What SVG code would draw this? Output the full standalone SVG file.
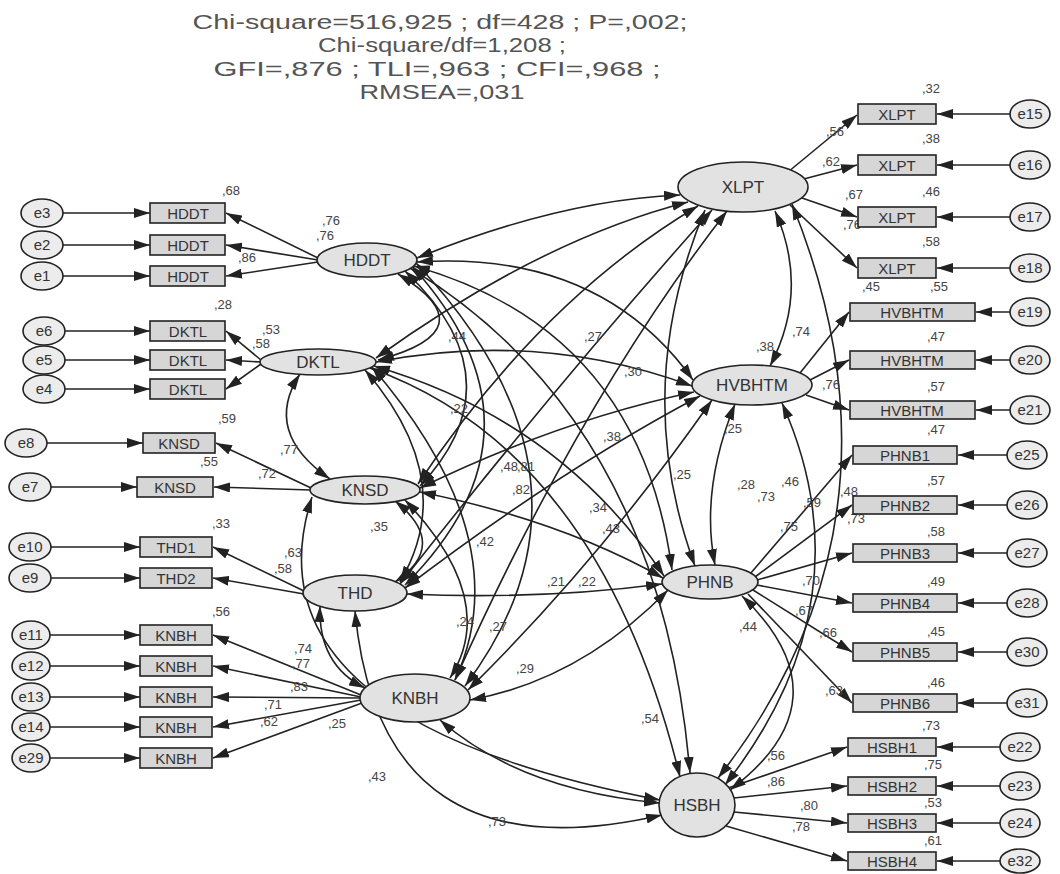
<svg xmlns="http://www.w3.org/2000/svg" width="1060" height="874" viewBox="0 0 1060 874">
<defs>
<marker id="ah" viewBox="0 0 16 10" refX="16" refY="5" markerWidth="16" markerHeight="10" markerUnits="userSpaceOnUse" orient="auto-start-reverse"><path d="M0,0 L16,5 L0,10 z" fill="#222"/></marker>
</defs>
<style>
.t{font-family:"Liberation Sans",Arial,sans-serif;fill:#555;font-size:20px;text-anchor:middle}
.lat{fill:#e2e2e2;stroke:#222;stroke-width:1.6}
.box{fill:#d6d6d6;stroke:#222;stroke-width:1.6}
.err{fill:#ececec;stroke:#222;stroke-width:1.6}
.nt{font-family:"Liberation Sans",Arial,sans-serif;fill:#333;font-size:17px;text-anchor:middle}
.bt{font-family:"Liberation Sans",Arial,sans-serif;fill:#333;font-size:15px;text-anchor:middle}
.v{font-family:"Liberation Sans",Arial,sans-serif;fill:#444;font-size:13px}
.c path{fill:none;stroke:#222;stroke-width:1.6}
.one{marker-end:url(#ah)}
.two{marker-start:url(#ah);marker-end:url(#ah)}
</style>
<rect width="1060" height="874" fill="#fff"/>
<g id="title">
<text class="t" x="440" y="29" textLength="495" lengthAdjust="spacingAndGlyphs">Chi-square=516,925 ; df=428 ; P=,002;</text>
<text class="t" x="442" y="52" textLength="248" lengthAdjust="spacingAndGlyphs">Chi-square/df=1,208 ;</text>
<text class="t" x="437" y="76" textLength="447" lengthAdjust="spacingAndGlyphs">GFI=,876 ; TLI=,963 ; CFI=,968 ;</text>
<text class="t" x="442" y="99" textLength="165" lengthAdjust="spacingAndGlyphs">RMSEA=,031</text>
</g>
<g id="connectors" class="c">
<path class="one" d="M63,213 H150"/><path class="one" d="M63,245 H150"/><path class="one" d="M63,276 H150"/>
<path class="one" d="M65,331 H150"/><path class="one" d="M65,360 H150"/><path class="one" d="M65,389 H150"/>
<path class="one" d="M47,443 H143"/><path class="one" d="M51,487 H137"/>
<path class="one" d="M51,547 H140"/><path class="one" d="M51,578 H140"/>
<path class="one" d="M50,635 H140"/><path class="one" d="M50,666 H140"/><path class="one" d="M50,697 H140"/><path class="one" d="M50,727 H140"/><path class="one" d="M50,758 H140"/>
<path class="one" d="M318,258 L226,213"/><path class="one" d="M318,260 L226,245"/><path class="one" d="M318,262 L226,276"/>
<path class="one" d="M261,360 L226,331"/><path class="one" d="M261,362 L226,360"/><path class="one" d="M261,364 L226,389"/>
<path class="one" d="M311,488 L216,443"/><path class="one" d="M311,490 L214,487"/>
<path class="one" d="M304,591 L213,547"/><path class="one" d="M304,594 L213,578"/>
<path class="one" d="M361,695 L213,635"/><path class="one" d="M361,697 L213,666"/><path class="one" d="M361,698 L213,697"/><path class="one" d="M361,700 L213,727"/><path class="one" d="M362,703 L213,758"/>
<path class="one" d="M1010,114 H937"/><path class="one" d="M1010,165 H937"/><path class="one" d="M1010,217 H937"/><path class="one" d="M1010,268 H937"/>
<path class="one" d="M1010,312 H976"/><path class="one" d="M1010,360 H976"/><path class="one" d="M1010,410 H976"/>
<path class="one" d="M1007,455 H958"/><path class="one" d="M1007,505 H958"/><path class="one" d="M1007,553 H958"/><path class="one" d="M1007,603 H958"/><path class="one" d="M1007,652 H958"/><path class="one" d="M1007,703 H958"/>
<path class="one" d="M1000,747 H937"/><path class="one" d="M1000,786 H937"/><path class="one" d="M1000,823 H937"/><path class="one" d="M1000,861 H937"/>
<path class="one" d="M788,172 L857,115"/><path class="one" d="M800,180 L857,165"/><path class="one" d="M802,198 L857,217"/><path class="one" d="M790,205 L857,268"/>
<path class="one" d="M800,373 L849,312"/><path class="one" d="M810,380 L849,360"/><path class="one" d="M806,395 L849,410"/>
<path class="one" d="M750,574 L852,455"/><path class="one" d="M755,577 L852,505"/><path class="one" d="M757,580 L852,553"/><path class="one" d="M757,585 L852,603"/><path class="one" d="M753,590 L852,652"/><path class="one" d="M748,594 L852,703"/>
<path class="one" d="M728,788 L847,747"/><path class="one" d="M734,798 L847,786"/><path class="one" d="M734,812 L847,823"/><path class="one" d="M726,826 L847,861"/>
<path class="two" d="M398,274 Q490,330 378,360"/>
<path class="two" d="M405,271 Q520,380 420,486"/>
<path class="two" d="M412,266 Q560,430 405,585"/>
<path class="two" d="M416,263 Q620,480 465,686"/>
<path class="two" d="M300,374 Q262,432 330,479"/>
<path class="two" d="M365,370 Q460,480 400,582"/>
<path class="two" d="M372,367 Q520,540 455,680"/>
<path class="two" d="M395,501 Q450,545 395,582"/>
<path class="two" d="M405,500 Q500,600 450,678"/>
<path class="two" d="M320,606 Q318,665 365,688"/>
<path class="two" d="M775,211 Q810,290 770,366"/>
<path class="two" d="M705,210 Q630,390 695,566"/>
<path class="two" d="M792,204 Q920,520 718,778"/>
<path class="two" d="M735,404 Q700,490 715,565"/>
<path class="two" d="M782,403 Q870,600 725,785"/>
<path class="two" d="M742,596 Q850,700 730,790"/>
<path class="two" d="M417,258 Q560,200 680,195"/>
<path class="two" d="M417,262 Q600,250 693,380"/>
<path class="two" d="M414,266 Q640,330 672,570"/>
<path class="two" d="M410,268 Q660,420 690,773"/>
<path class="two" d="M376,358 Q540,240 688,202"/>
<path class="two" d="M376,362 Q540,330 692,386"/>
<path class="two" d="M374,366 Q560,420 664,576"/>
<path class="two" d="M370,368 Q600,450 680,777"/>
<path class="two" d="M418,484 Q540,300 698,206"/>
<path class="two" d="M420,488 Q560,420 694,392"/>
<path class="two" d="M420,492 Q560,520 663,578"/>
<path class="two" d="M312,497 Q240,720 660,800"/>
<path class="two" d="M400,584 Q560,380 712,210"/>
<path class="two" d="M405,588 Q560,470 700,396"/>
<path class="two" d="M407,594 Q540,600 662,584"/>
<path class="two" d="M355,611 Q380,880 662,815"/>
<path class="two" d="M455,680 Q580,400 727,211"/>
<path class="two" d="M468,690 Q600,560 712,400"/>
<path class="two" d="M470,700 Q580,680 668,590"/>
<path class="two" d="M440,720 Q520,790 660,803"/>
</g>
<g id="labels" class="v">
<text x="222" y="195">,68</text><text x="322" y="225">,76</text><text x="316" y="240">,76</text><text x="238" y="262">,86</text>
<text x="214" y="309">,28</text><text x="262" y="334">,53</text><text x="252" y="348">,58</text>
<text x="218" y="423">,59</text><text x="280" y="454">,77</text><text x="258" y="478">,72</text><text x="200" y="466">,55</text>
<text x="212" y="528">,33</text><text x="284" y="557">,63</text><text x="274" y="573">,58</text><text x="370" y="531">,35</text>
<text x="212" y="616">,56</text><text x="294" y="653">,74</text><text x="292" y="668">,77</text><text x="290" y="691">,83</text><text x="264" y="709">,71</text><text x="260" y="726">,62</text><text x="328" y="728">,25</text>
<text x="922" y="93">,32</text><text x="826" y="136">,56</text><text x="922" y="143">,38</text><text x="822" y="166">,62</text><text x="922" y="196">,46</text><text x="845" y="199">,67</text><text x="843" y="229">,76</text><text x="922" y="246">,58</text>
<text x="862" y="291">,45</text><text x="930" y="291">,55</text><text x="792" y="336">,74</text><text x="927" y="341">,47</text><text x="822" y="389">,76</text><text x="927" y="391">,57</text>
<text x="927" y="434">,47</text><text x="840" y="496">,48</text><text x="927" y="485">,57</text><text x="847" y="523">,73</text><text x="927" y="536">,58</text><text x="802" y="585">,70</text><text x="927" y="586">,49</text><text x="795" y="615">,67</text><text x="819" y="637">,66</text><text x="927" y="636">,45</text><text x="825" y="695">,63</text><text x="927" y="687">,46</text>
<text x="922" y="730">,73</text><text x="767" y="760">,56</text><text x="924" y="769">,75</text><text x="767" y="786">,86</text><text x="924" y="807">,53</text><text x="800" y="810">,80</text><text x="792" y="831">,78</text><text x="924" y="845">,61</text>
<text x="448" y="341">,44</text><text x="584" y="341">,27</text><text x="624" y="376">,30</text><text x="756" y="351">,38</text><text x="450" y="413">,22</text><text x="603" y="441">,38</text>
<text x="500" y="471">,48</text><text x="517" y="471">,81</text><text x="512" y="494">,82</text><text x="673" y="479">,25</text><text x="724" y="433">,25</text><text x="589" y="512">,34</text><text x="602" y="533">,43</text>
<text x="737" y="489">,28</text><text x="781" y="486">,46</text><text x="757" y="501">,73</text><text x="803" y="507">,59</text><text x="780" y="531">,75</text>
<text x="476" y="546">,42</text><text x="547" y="586">,21</text><text x="578" y="586">,22</text><text x="456" y="626">,24</text><text x="489" y="631">,27</text><text x="516" y="673">,29</text>
<text x="739" y="631">,44</text><text x="641" y="723">,54</text><text x="368" y="781">,43</text><text x="488" y="826">,73</text>
</g>
<g id="e3"><ellipse class="err" cx="42" cy="213" rx="21" ry="14"/><text class="bt" x="42" y="218">e3</text></g>
<g id="e2"><ellipse class="err" cx="42" cy="245" rx="21" ry="14"/><text class="bt" x="42" y="250">e2</text></g>
<g id="e1"><ellipse class="err" cx="42" cy="276" rx="21" ry="14"/><text class="bt" x="42" y="281">e1</text></g>
<g id="e6"><ellipse class="err" cx="44" cy="331" rx="21" ry="14"/><text class="bt" x="44" y="336">e6</text></g>
<g id="e5"><ellipse class="err" cx="44" cy="360" rx="21" ry="14"/><text class="bt" x="44" y="365">e5</text></g>
<g id="e4"><ellipse class="err" cx="44" cy="389" rx="21" ry="14"/><text class="bt" x="44" y="394">e4</text></g>
<g id="e8"><ellipse class="err" cx="26" cy="443" rx="21" ry="14"/><text class="bt" x="26" y="448">e8</text></g>
<g id="e7"><ellipse class="err" cx="30" cy="487" rx="21" ry="14"/><text class="bt" x="30" y="492">e7</text></g>
<g id="e10"><ellipse class="err" cx="30" cy="547" rx="21" ry="14"/><text class="bt" x="30" y="552">e10</text></g>
<g id="e9"><ellipse class="err" cx="30" cy="578" rx="21" ry="14"/><text class="bt" x="30" y="583">e9</text></g>
<g id="e11"><ellipse class="err" cx="31" cy="635" rx="19" ry="14"/><text class="bt" x="31" y="640">e11</text></g>
<g id="e12"><ellipse class="err" cx="31" cy="666" rx="19" ry="14"/><text class="bt" x="31" y="671">e12</text></g>
<g id="e13"><ellipse class="err" cx="31" cy="697" rx="19" ry="14"/><text class="bt" x="31" y="702">e13</text></g>
<g id="e14"><ellipse class="err" cx="31" cy="727" rx="19" ry="14"/><text class="bt" x="31" y="732">e14</text></g>
<g id="e29"><ellipse class="err" cx="31" cy="758" rx="19" ry="14"/><text class="bt" x="31" y="763">e29</text></g>
<g id="n_hddt1"><rect class="box" x="150" y="203" width="75" height="20"/><text class="bt" x="188" y="219">HDDT</text></g>
<g id="n_hddt2"><rect class="box" x="150" y="235" width="75" height="20"/><text class="bt" x="188" y="251">HDDT</text></g>
<g id="n_hddt3"><rect class="box" x="150" y="266" width="75" height="20"/><text class="bt" x="188" y="282">HDDT</text></g>
<g id="n_dktl1"><rect class="box" x="150" y="321" width="75" height="20"/><text class="bt" x="188" y="337">DKTL</text></g>
<g id="n_dktl2"><rect class="box" x="150" y="350" width="75" height="20"/><text class="bt" x="188" y="366">DKTL</text></g>
<g id="n_dktl3"><rect class="box" x="150" y="379" width="75" height="20"/><text class="bt" x="188" y="395">DKTL</text></g>
<g id="n_knsd1"><rect class="box" x="143" y="433" width="72" height="20"/><text class="bt" x="179" y="449">KNSD</text></g>
<g id="n_knsd2"><rect class="box" x="137" y="477" width="76" height="20"/><text class="bt" x="175" y="493">KNSD</text></g>
<g id="n_thd1"><rect class="box" x="140" y="537" width="72" height="20"/><text class="bt" x="176" y="553">THD1</text></g>
<g id="n_thd2"><rect class="box" x="140" y="568" width="72" height="20"/><text class="bt" x="176" y="584">THD2</text></g>
<g id="n_knbh1"><rect class="box" x="140" y="625" width="72" height="20"/><text class="bt" x="176" y="641">KNBH</text></g>
<g id="n_knbh2"><rect class="box" x="140" y="656" width="72" height="20"/><text class="bt" x="176" y="672">KNBH</text></g>
<g id="n_knbh3"><rect class="box" x="140" y="687" width="72" height="20"/><text class="bt" x="176" y="703">KNBH</text></g>
<g id="n_knbh4"><rect class="box" x="140" y="717" width="72" height="20"/><text class="bt" x="176" y="733">KNBH</text></g>
<g id="n_knbh5"><rect class="box" x="140" y="748" width="72" height="20"/><text class="bt" x="176" y="764">KNBH</text></g>
<g id="n_xlpt1"><rect class="box" x="858" y="104" width="78" height="20"/><text class="bt" x="897" y="120">XLPT</text></g>
<g id="n_xlpt2"><rect class="box" x="858" y="155" width="78" height="20"/><text class="bt" x="897" y="171">XLPT</text></g>
<g id="n_xlpt3"><rect class="box" x="858" y="207" width="78" height="20"/><text class="bt" x="897" y="223">XLPT</text></g>
<g id="n_xlpt4"><rect class="box" x="858" y="258" width="78" height="20"/><text class="bt" x="897" y="274">XLPT</text></g>
<g id="n_hv1"><rect class="box" x="850" y="303" width="125" height="18"/><text class="bt" x="912" y="318">HVBHTM</text></g>
<g id="n_hv2"><rect class="box" x="850" y="351" width="125" height="18"/><text class="bt" x="912" y="366">HVBHTM</text></g>
<g id="n_hv3"><rect class="box" x="850" y="401" width="125" height="18"/><text class="bt" x="912" y="416">HVBHTM</text></g>
<g id="n_ph1"><rect class="box" x="853" y="446" width="104" height="18"/><text class="bt" x="905" y="461">PHNB1</text></g>
<g id="n_ph2"><rect class="box" x="853" y="496" width="104" height="18"/><text class="bt" x="905" y="511">PHNB2</text></g>
<g id="n_ph3"><rect class="box" x="853" y="544" width="104" height="18"/><text class="bt" x="905" y="559">PHNB3</text></g>
<g id="n_ph4"><rect class="box" x="853" y="594" width="104" height="18"/><text class="bt" x="905" y="609">PHNB4</text></g>
<g id="n_ph5"><rect class="box" x="853" y="643" width="104" height="18"/><text class="bt" x="905" y="658">PHNB5</text></g>
<g id="n_ph6"><rect class="box" x="853" y="694" width="104" height="18"/><text class="bt" x="905" y="709">PHNB6</text></g>
<g id="n_hs1"><rect class="box" x="848" y="738" width="88" height="18"/><text class="bt" x="892" y="753">HSBH1</text></g>
<g id="n_hs2"><rect class="box" x="848" y="777" width="88" height="18"/><text class="bt" x="892" y="792">HSBH2</text></g>
<g id="n_hs3"><rect class="box" x="848" y="814" width="88" height="18"/><text class="bt" x="892" y="829">HSBH3</text></g>
<g id="n_hs4"><rect class="box" x="848" y="852" width="88" height="18"/><text class="bt" x="892" y="867">HSBH4</text></g>
<g id="e15"><ellipse class="err" cx="1030" cy="114" rx="20" ry="14"/><text class="bt" x="1030" y="119">e15</text></g>
<g id="e16"><ellipse class="err" cx="1030" cy="165" rx="20" ry="14"/><text class="bt" x="1030" y="170">e16</text></g>
<g id="e17"><ellipse class="err" cx="1030" cy="217" rx="20" ry="14"/><text class="bt" x="1030" y="222">e17</text></g>
<g id="e18"><ellipse class="err" cx="1030" cy="268" rx="20" ry="14"/><text class="bt" x="1030" y="273">e18</text></g>
<g id="e19"><ellipse class="err" cx="1030" cy="312" rx="20" ry="14"/><text class="bt" x="1030" y="317">e19</text></g>
<g id="e20"><ellipse class="err" cx="1030" cy="360" rx="20" ry="14"/><text class="bt" x="1030" y="365">e20</text></g>
<g id="e21"><ellipse class="err" cx="1030" cy="410" rx="20" ry="14"/><text class="bt" x="1030" y="415">e21</text></g>
<g id="e25"><ellipse class="err" cx="1027" cy="455" rx="20" ry="14"/><text class="bt" x="1027" y="460">e25</text></g>
<g id="e26"><ellipse class="err" cx="1027" cy="505" rx="20" ry="14"/><text class="bt" x="1027" y="510">e26</text></g>
<g id="e27"><ellipse class="err" cx="1027" cy="553" rx="20" ry="14"/><text class="bt" x="1027" y="558">e27</text></g>
<g id="e28"><ellipse class="err" cx="1027" cy="603" rx="20" ry="14"/><text class="bt" x="1027" y="608">e28</text></g>
<g id="e30"><ellipse class="err" cx="1027" cy="652" rx="20" ry="14"/><text class="bt" x="1027" y="657">e30</text></g>
<g id="e31"><ellipse class="err" cx="1027" cy="703" rx="20" ry="14"/><text class="bt" x="1027" y="708">e31</text></g>
<g id="e22"><ellipse class="err" cx="1020" cy="747" rx="20" ry="14"/><text class="bt" x="1020" y="752">e22</text></g>
<g id="e23"><ellipse class="err" cx="1020" cy="786" rx="20" ry="14"/><text class="bt" x="1020" y="791">e23</text></g>
<g id="e24"><ellipse class="err" cx="1020" cy="823" rx="20" ry="14"/><text class="bt" x="1020" y="828">e24</text></g>
<g id="e32"><ellipse class="err" cx="1020" cy="861" rx="20" ry="12"/><text class="bt" x="1020" y="866">e32</text></g>
<g id="XLPT"><ellipse class="lat" cx="743" cy="187" rx="65" ry="25"/><text class="nt" x="743" y="193">XLPT</text></g>
<g id="HDDT"><ellipse class="lat" cx="367" cy="260" rx="50" ry="17"/><text class="nt" x="367" y="266">HDDT</text></g>
<g id="DKTL"><ellipse class="lat" cx="318" cy="362" rx="58" ry="13"/><text class="nt" x="318" y="368">DKTL</text></g>
<g id="HVBHTM"><ellipse class="lat" cx="752" cy="385" rx="60" ry="20"/><text class="nt" x="752" y="391">HVBHTM</text></g>
<g id="KNSD"><ellipse class="lat" cx="365" cy="490" rx="55" ry="14"/><text class="nt" x="365" y="496">KNSD</text></g>
<g id="THD"><ellipse class="lat" cx="355" cy="593" rx="52" ry="18"/><text class="nt" x="355" y="599">THD</text></g>
<g id="PHNB"><ellipse class="lat" cx="710" cy="582" rx="48" ry="17"/><text class="nt" x="710" y="588">PHNB</text></g>
<g id="KNBH"><ellipse class="lat" cx="415" cy="698" rx="55" ry="24"/><text class="nt" x="415" y="704">KNBH</text></g>
<g id="HSBH"><ellipse class="lat" cx="697" cy="805" rx="38" ry="32"/><text class="nt" x="697" y="811">HSBH</text></g>
</svg>
